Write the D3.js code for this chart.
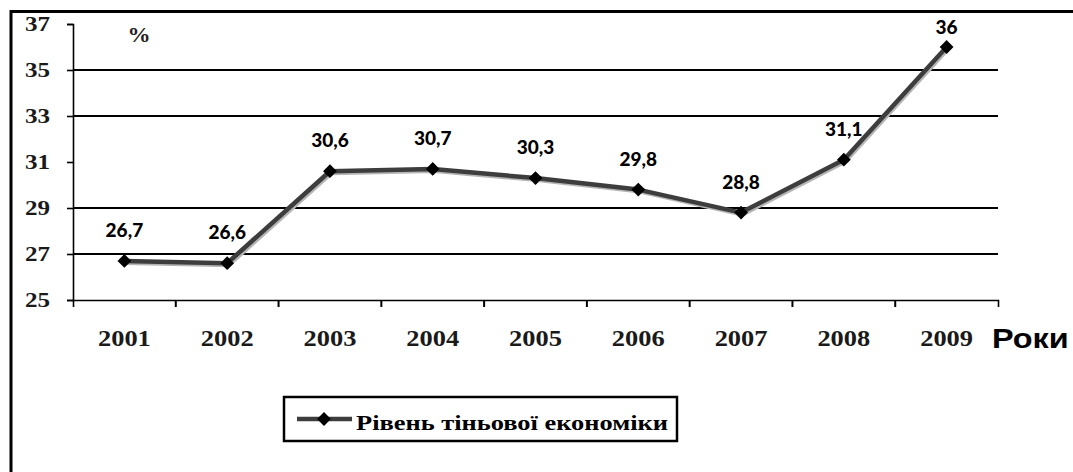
<!DOCTYPE html>
<html>
<head>
<meta charset="utf-8">
<script src="https://cdn.jsdelivr.net/npm/d3@7"></script>
<style>
  html, body { margin: 0; padding: 0; background: #fff; }
  svg { display: block; }
</style>
</head>
<body>
<svg id="chart" width="1073" height="472"></svg>
<script>
const years = ["2001", "2002", "2003", "2004", "2005", "2006", "2007", "2008", "2009"];
const values = [26.7, 26.6, 30.6, 30.7, 30.3, 29.8, 28.8, 31.1, 36];
const valueLabels = ["26,7", "26,6", "30,6", "30,7", "30,3", "29,8", "28,8", "31,1", "36"];
const yTicks = [25, 27, 29, 31, 33, 35, 37];
const gridValues = [27, 29, 33, 35];
const yUnit = "%";
const xTitle = "Роки";
const seriesName = "Рівень тіньової економіки";

(function () {
const svg = d3.select("#chart");
const pLeft = 73, pRight = 998, pTop = 24, pBottom = 300;

const x = d3.scaleBand().domain(years).range([pLeft, pRight]);
const y = d3.scaleLinear().domain([25, 37]).range([pBottom, pTop]);

// outer frame (only top and left visible)
svg.append("path")
  .attr("d", "M11,472V11.5H1073")
  .attr("fill", "none").attr("stroke", "#000").attr("stroke-width", 3);

// gridlines
svg.append("g").selectAll("line").data(gridValues).join("line")
  .attr("x1", pLeft).attr("x2", pRight)
  .attr("y1", d => y(d)).attr("y2", d => y(d))
  .attr("stroke", "#000").attr("stroke-width", 2);

// y axis
const yAxis = svg.append("g").attr("transform", `translate(${pLeft},0)`)
  .call(d3.axisLeft(y).tickValues(yTicks).tickSize(6).tickSizeOuter(6).tickFormat(""));
yAxis.selectAll("path,line").attr("stroke", "#000").attr("stroke-width", 1.6);

// x axis
const xAxis = svg.append("g").attr("transform", `translate(0,${pBottom})`)
  .call(d3.axisBottom(x).tickValues([]).tickSizeOuter(7));
xAxis.selectAll("path").attr("stroke", "#000").attr("stroke-width", 1.6);
svg.append("g").selectAll("line").data(years.slice(1)).join("line")
  .attr("x1", d => x(d)).attr("x2", d => x(d))
  .attr("y1", pBottom).attr("y2", pBottom + 7)
  .attr("stroke", "#000").attr("stroke-width", 2);

// y tick labels
svg.append("g").selectAll("text").data(yTicks).join("text")
  .attr("transform", d => `translate(50,${y(d) + 7}) scale(1.14,1)`)
  .attr("text-anchor", "end")
  .attr("font-family", "Liberation Serif, Times New Roman, serif")
  .attr("font-weight", "bold").attr("font-size", 22).attr("fill", "#1a1a1a")
  .text(d => d);

// x tick labels
svg.append("g").selectAll("text").data(years).join("text")
  .attr("transform", d => `translate(${x(d) + x.bandwidth() / 2},346) scale(1.15,1)`)
  .attr("text-anchor", "middle")
  .attr("font-family", "Liberation Serif, Times New Roman, serif")
  .attr("font-weight", "bold").attr("font-size", 23).attr("fill", "#1a1a1a")
  .text(d => d);

// unit label
svg.append("text")
  .attr("transform", "translate(139,42) scale(1.1,1)")
  .attr("text-anchor", "middle")
  .attr("font-family", "Liberation Serif, Times New Roman, serif")
  .attr("font-weight", "bold").attr("font-size", 21).attr("fill", "#222")
  .text(yUnit);

// x title
svg.append("text")
  .attr("transform", "translate(992,348) scale(1.2,1)")
  .attr("font-family", "Liberation Sans, Arial, sans-serif")
  .attr("font-weight", "bold").attr("font-size", 27).attr("fill", "#000")
  .text(xTitle);

const data = years.map((yr, i) => ({ yr, v: values[i], lab: valueLabels[i] }));
const cx = d => x(d.yr) + x.bandwidth() / 2;
const line = d3.line().x(cx).y(d => y(d.v));

// shadow + line
svg.append("path").datum(data).attr("d", line)
  .attr("transform", "translate(1.5,2)")
  .attr("fill", "none").attr("stroke", "#b5b5b5").attr("stroke-width", 4);
svg.append("path").datum(data).attr("d", line)
  .attr("fill", "none").attr("stroke", "#3d3d3d").attr("stroke-width", 4.5)
  .attr("stroke-linejoin", "round");

// markers
const diamond = d3.symbol().type(d3.symbolSquare).size(95);
svg.append("g").selectAll("path").data(data).join("path")
  .attr("d", diamond)
  .attr("transform", d => `translate(${cx(d)},${y(d.v)}) rotate(45)`)
  .attr("fill", "#000");

// value labels
svg.append("g").selectAll("text").data(data).join("text")
  .attr("x", cx)
  .attr("y", d => Math.max(y(d.v) - 24, pTop + 10))
  .attr("text-anchor", "middle")
  .attr("font-family", "Lato, Open Sans, sans-serif")
  .attr("font-weight", 900).attr("font-size", 19).attr("fill", "#000")
  .text(d => d.lab);

// legend
const lg = svg.append("g");
lg.append("rect").attr("x", 284).attr("y", 397).attr("width", 393).attr("height", 44)
  .attr("fill", "#fff").attr("stroke", "#000").attr("stroke-width", 2.5);
lg.append("line").attr("x1", 297).attr("x2", 352).attr("y1", 419).attr("y2", 419)
  .attr("stroke", "#3d3d3d").attr("stroke-width", 4.5);
lg.append("path").attr("d", diamond).attr("transform", "translate(324,419) rotate(45)").attr("fill", "#000");
lg.append("text").attr("x", 356).attr("y", 430)
  .attr("textLength", 312).attr("lengthAdjust", "spacingAndGlyphs")
  .attr("font-family", "Liberation Serif, Times New Roman, serif")
  .attr("font-weight", "bold").attr("font-size", 21).attr("fill", "#000")
  .text(seriesName);
})();
</script>
</body>
</html>
